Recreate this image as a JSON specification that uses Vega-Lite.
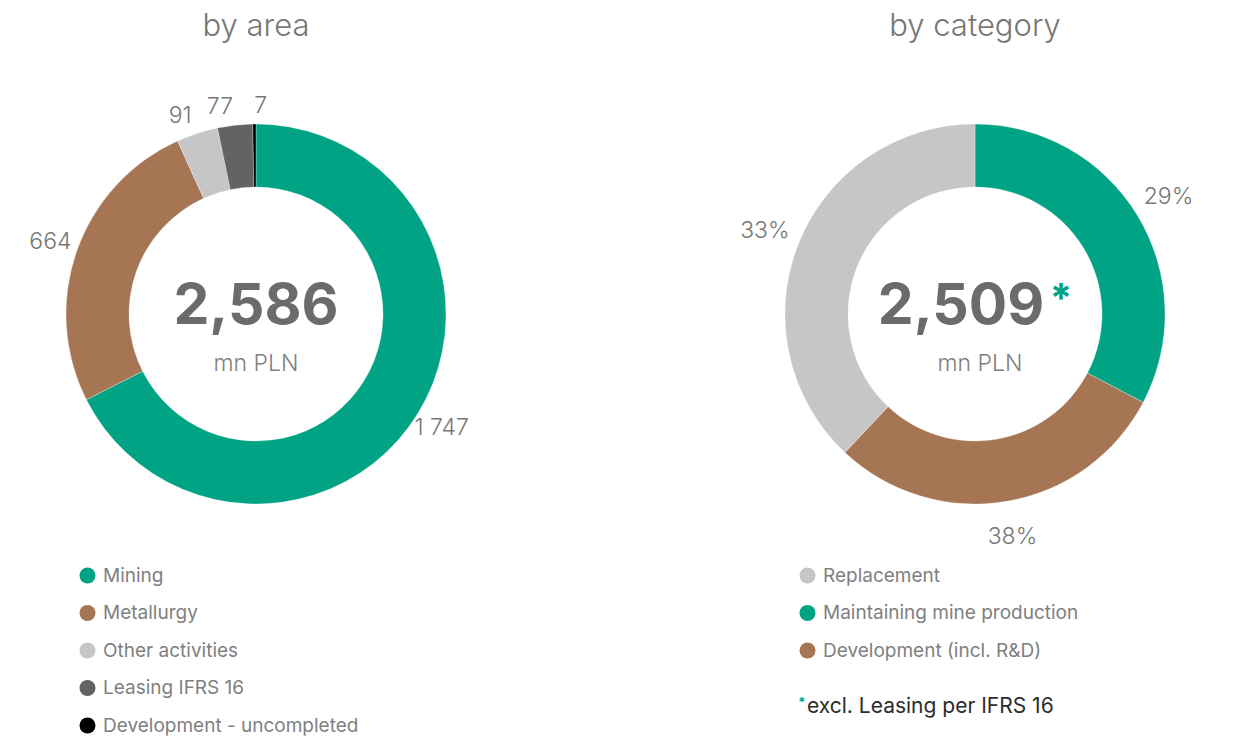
{
  "$schema": "https://vega.github.io/schema/vega-lite/v6.json",
  "padding": {"left": 0, "top": 11, "right": 0, "bottom": 0},
  "autosize": {"type": "pad"},
  "bounds": "flush",
  "spacing": 207,
  "background": "white",
  "config": {
    "view": {"stroke": null},
    "font": "Inter",
    "legend": {
      "orient": "none",
      "title": null,
      "symbolType": "circle",
      "symbolSize": 256,
      "symbolStrokeWidth": 0,
      "labelFontSize": 19,
      "labelColor": "#808080",
      "labelFont": "Inter",
      "labelOffset": 6,
      "labelLimit": 0,
      "rowPadding": 17.5,
      "padding": 0
    }
  },
  "resolve": {"scale": {"color": "independent", "theta": "independent"}, "legend": {"color": "independent"}},
  "hconcat": [
    {
      "width": 512,
      "height": 400,
      "data": {"values": [
        {"area": "Mining", "value": 1747, "label": "1 747", "rank": 1},
        {"area": "Metallurgy", "value": 664, "label": "664", "rank": 2},
        {"area": "Other activities", "value": 91, "label": "91", "rank": 3},
        {"area": "Leasing IFRS 16", "value": 77, "label": "77", "rank": 4},
        {"area": "Development - uncompleted", "value": 7, "label": "7", "rank": 5}
      ]},
      "layer": [
        {
          "mark": {"type": "arc", "innerRadius": 127, "outerRadius": 190, "stroke": "white", "strokeWidth": 0.3},
          "encoding": {
            "theta": {"field": "value", "type": "quantitative", "stack": true},
            "order": {"field": "rank", "type": "quantitative"},
            "color": {
              "field": "area", "type": "nominal",
              "scale": {"domain": ["Mining", "Metallurgy", "Other activities", "Leasing IFRS 16", "Development - uncompleted"],
                        "range": ["#00a383", "#a67554", "#c6c6c6", "#636363", "#000000"]},
              "legend": {"legendX": 78, "legendY": 452}
            }
          }
        },
        {
          "mark": {"type": "text", "radius": 218, "fontSize": 23, "color": "#777777", "fontWeight": 300},
          "encoding": {
            "theta": {"field": "value", "type": "quantitative", "stack": true},
            "order": {"field": "rank", "type": "quantitative"},
            "text": {"condition": {"test": "datum.rank <= 2", "field": "label"}, "value": ""}
          }
        },
        {
          "mark": {"type": "text", "radius": 208, "fontSize": 23, "color": "#777777", "fontWeight": 300, "align": "right"},
          "encoding": {
            "theta": {"field": "value", "type": "quantitative", "stack": true},
            "order": {"field": "rank", "type": "quantitative"},
            "text": {"condition": {"test": "datum.rank == 3 || datum.rank == 4", "field": "label"}, "value": ""}
          }
        },
        {
          "mark": {"type": "text", "radius": 208, "fontSize": 23, "color": "#777777", "fontWeight": 300, "align": "left"},
          "encoding": {
            "theta": {"field": "value", "type": "quantitative", "stack": true},
            "order": {"field": "rank", "type": "quantitative"},
            "text": {"condition": {"test": "datum.rank == 5", "field": "label"}, "value": ""}
          }
        },
        {
          "data": {"values": [{"t": "by area"}]},
          "mark": {"type": "text", "fontSize": 31, "color": "#777777", "fontWeight": 300, "dy": -287},
          "encoding": {"text": {"field": "t", "type": "nominal"}}
        },
        {
          "data": {"values": [{"t": "2,586"}]},
          "mark": {"type": "text", "fontSize": 57, "color": "#6b6b6b", "fontWeight": "bold", "dy": -7},
          "encoding": {"text": {"field": "t", "type": "nominal"}}
        },
        {
          "data": {"values": [{"t": "mn PLN"}]},
          "mark": {"type": "text", "fontSize": 23, "color": "#808080", "fontWeight": 300, "dy": 50},
          "encoding": {"text": {"field": "t", "type": "nominal"}}
        }
      ]
    },
    {
      "width": 512,
      "height": 400,
      "data": {"values": [
        {"category": "Maintaining mine production", "share": 32.7, "label": "29%", "rank": 1},
        {"category": "Development (incl. R&D)", "share": 29.3, "label": "38%", "rank": 2},
        {"category": "Replacement", "share": 38.0, "label": "33%", "rank": 3}
      ]},
      "layer": [
        {
          "mark": {"type": "arc", "innerRadius": 127, "outerRadius": 190, "stroke": "white", "strokeWidth": 0.3},
          "encoding": {
            "theta": {"field": "share", "type": "quantitative", "stack": true},
            "order": {"field": "rank", "type": "quantitative"},
            "color": {
              "field": "category", "type": "nominal",
              "scale": {"domain": ["Replacement", "Maintaining mine production", "Development (incl. R&D)"],
                        "range": ["#c6c6c6", "#00a383", "#a67554"]},
              "legend": {"legendX": 79, "legendY": 452}
            }
          }
        },
        {
          "mark": {"type": "text", "radius": 226, "fontSize": 23, "color": "#777777", "fontWeight": 300},
          "encoding": {
            "theta": {"field": "share", "type": "quantitative", "stack": true},
            "order": {"field": "rank", "type": "quantitative"},
            "text": {"field": "label", "type": "nominal"}
          }
        },
        {
          "data": {"values": [{"t": "by category"}]},
          "mark": {"type": "text", "fontSize": 31, "color": "#777777", "fontWeight": 300, "dy": -287},
          "encoding": {"text": {"field": "t", "type": "nominal"}}
        },
        {
          "data": {"values": [{"t": "2,509"}]},
          "mark": {"type": "text", "fontSize": 57, "color": "#6b6b6b", "fontWeight": "bold", "dy": -7, "dx": -14},
          "encoding": {"text": {"field": "t", "type": "nominal"}}
        },
        {
          "data": {"values": [{"t": "*"}]},
          "mark": {"type": "text", "fontSize": 40, "color": "#00a383", "fontWeight": "bold", "dy": -14, "dx": 86},
          "encoding": {"text": {"field": "t", "type": "nominal"}}
        },
        {
          "data": {"values": [{"t": "mn PLN"}]},
          "mark": {"type": "text", "fontSize": 23, "color": "#808080", "fontWeight": 300, "dy": 50, "dx": 5},
          "encoding": {"text": {"field": "t", "type": "nominal"}}
        },
        {
          "data": {"values": [{"t": "*"}]},
          "mark": {"type": "text", "fontSize": 13, "color": "#00a383", "fontWeight": "bold", "dy": 389, "dx": -173},
          "encoding": {"text": {"field": "t", "type": "nominal"}}
        },
        {
          "data": {"values": [{"t": "excl. Leasing per IFRS 16"}]},
          "mark": {"type": "text", "fontSize": 21, "color": "#2b2b2b", "align": "left", "dy": 393, "dx": -168},
          "encoding": {"text": {"field": "t", "type": "nominal"}}
        }
      ]
    }
  ]
}
